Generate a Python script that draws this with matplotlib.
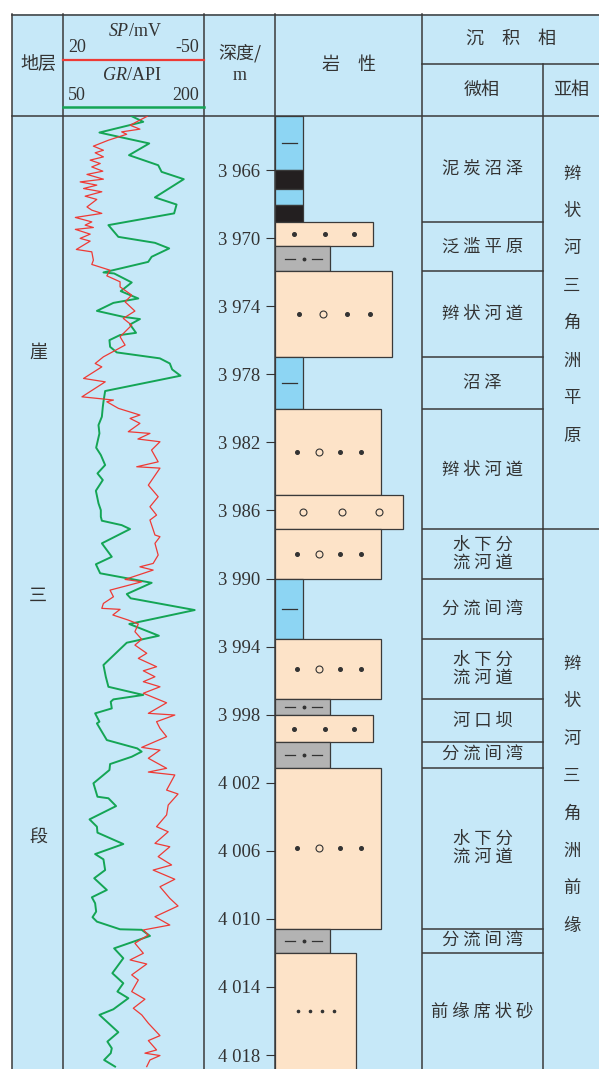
#!/usr/bin/env python3
"""崖三段单井沉积相综合柱状图"""

import matplotlib
matplotlib.use('Agg')
import matplotlib.pyplot as plt
from matplotlib.patches import Rectangle

plt.rcParams['font.family'] = ['Noto Sans CJK SC', 'DejaVu Sans']

# ---- data ----
D_TOP, D_BOT = 3962.8, 4018.82
depth_ticks = list(range(3966, 4019, 4))

gr_depth = [3962.83, 3963.16, 3963.79, 3964.43, 3965.12, 3965.71, 3966.10, 3966.53,
            3967.60, 3968.02, 3968.54, 3969.23, 3969.92, 3970.27, 3970.60, 3971.09,
            3971.39, 3971.92, 3972.01, 3972.07, 3972.60, 3973.11, 3973.34, 3973.54,
            3973.80, 3974.27, 3974.62, 3974.75, 3975.07, 3975.56, 3975.69, 3975.99,
            3976.38, 3976.71, 3977.06, 3977.36, 3977.71, 3978.08, 3978.98, 3979.61,
            3979.91, 3980.49, 3980.98, 3981.47, 3982.31, 3982.74, 3983.33, 3983.82,
            3984.21, 3984.84, 3985.58, 3985.98, 3986.37, 3986.60, 3986.86, 3987.09,
            3987.93, 3988.72, 3989.16, 3989.69, 3990.25, 3990.91, 3991.16, 3991.85,
            3992.67, 3993.36, 3993.77, 3995.08, 3995.77, 3996.36, 3996.84, 3997.10,
            3997.24, 3997.63, 3997.92, 3998.41, 3998.51, 3999.49, 3999.98, 4000.17,
            4000.47, 4000.90, 4001.25, 4002.03, 4002.82, 4002.91, 4003.37, 4004.15,
            4004.58, 4004.93, 4005.60, 4006.19, 4006.50, 4007.13, 4007.61, 4008.30,
            4008.73, 4009.08, 4009.57, 4009.90, 4010.16, 4010.61, 4010.64, 4011.00,
            4011.73, 4012.31, 4013.19, 4013.78, 4014.27, 4014.66, 4015.31, 4015.64,
            4016.66, 4017.21, 4017.60, 4017.89, 4018.29, 4018.68]
gr_value = [123.1, 135.4, 88.6, 141.8, 120.2, 151.4, 155.0, 178.7,
            147.9, 171.0, 168.4, 98.2, 108.8, 147.9, 163.1, 144.4,
            140.7, 100.0, 92.9, 104.3, 123.1, 111.4, 121.3, 130.1,
            103.5, 85.9, 114.1, 131.9, 121.3, 127.7, 110.6, 99.3,
            100.0, 107.1, 153.2, 163.8, 166.3, 175.2, 94.7, 92.9,
            92.2, 91.2, 87.6, 88.6, 85.1, 90.1, 94.7, 86.5,
            92.2, 84.8, 87.6, 90.1, 90.1, 91.2, 112.4, 121.3,
            91.2, 101.8, 84.8, 89.4, 144.4, 117.8, 122.0, 190.4,
            120.5, 152.1, 117.8, 92.9, 95.4, 98.2, 135.4, 103.5,
            100.7, 101.8, 84.0, 88.6, 85.9, 96.5, 129.0, 133.7,
            123.1, 100.0, 99.3, 82.2, 86.5, 98.2, 106.4, 78.0,
            85.9, 86.5, 114.1, 84.0, 92.9, 94.7, 83.0, 96.5,
            80.5, 84.0, 85.1, 81.2, 85.9, 110.6, 133.7, 142.6,
            104.3, 114.1, 102.4, 114.1, 107.8, 119.5, 103.5, 88.6,
            108.8, 97.1, 101.8, 100.7, 93.6, 105.3]

sp_depth = [3962.83, 3963.06, 3963.36, 3963.59, 3963.75, 3963.89, 3964.24, 3964.59,
            3964.83, 3964.98, 3965.22, 3965.41, 3965.61, 3965.81, 3966.06, 3966.25,
            3966.53, 3966.69, 3966.88, 3967.08, 3967.27, 3967.53, 3967.72, 3968.16,
            3968.35, 3968.54, 3968.78, 3969.04, 3969.23, 3969.37, 3969.48, 3969.76,
            3970.01, 3970.17, 3970.66, 3970.80, 3971.29, 3971.54, 3971.88, 3972.21,
            3972.56, 3972.86, 3973.34, 3973.74, 3974.28, 3974.71, 3975.11, 3975.79,
            3976.28, 3976.97, 3977.36, 3977.56, 3978.24, 3978.44, 3979.32, 3979.51,
            3979.61, 3980.00, 3980.39, 3980.59, 3980.88, 3981.37, 3981.47, 3981.80,
            3981.96, 3982.45, 3983.14, 3983.43, 3983.51, 3984.51, 3985.19, 3985.78,
            3986.27, 3986.56, 3987.44, 3987.54, 3987.93, 3988.62, 3989.11, 3989.31,
            3989.50, 3990.05, 3990.19, 3990.68, 3991.07, 3991.46, 3991.75, 3991.81,
            3992.14, 3992.44, 3992.67, 3993.12, 3993.57, 3993.91, 3994.39, 3994.69,
            3995.18, 3995.42, 3995.77, 3996.06, 3996.36, 3996.74, 3997.30, 3997.92,
            3998.02, 3998.41, 3998.80, 3999.29, 3999.92, 4000.08, 4000.56, 4001.15,
            4001.37, 4001.54, 4002.43, 4002.66, 4003.31, 4003.89, 4004.58, 4004.88,
            4005.56, 4005.76, 4006.34, 4006.83, 4007.13, 4007.67, 4008.11, 4008.79,
            4009.24, 4009.87, 4010.36, 4010.65, 4010.94, 4011.43, 4012.02, 4012.41,
            4012.65, 4013.29, 4013.59, 4014.27, 4014.72, 4015.25, 4015.64, 4016.13,
            4016.86, 4017.15, 4017.70, 4017.89, 4018.03, 4018.29, 4018.68]
sp_value = [-21.9, -18.2, -13.3, -18.2, -9.1, -11.6, -2.5, 5.0,
            0.0, 4.1, 0.0, 6.6, 1.6, 5.8, 0.3, 8.2,
            0.0, 11.6, 3.3, 9.9, 0.8, 9.1, 3.3, 8.2,
            5.8, 0.8, 14.0, 5.8, 9.1, 5.0, 14.0, 6.6,
            11.6, 6.6, 13.5, 5.8, 5.0, 5.8, -3.3, -1.7,
            -8.3, -8.3, -14.1, -10.8, -15.7, -9.9, -14.1, -8.3,
            -10.8, 0.0, 4.1, 0.8, 9.9, -0.9, 10.7, -5.0,
            -1.7, -7.5, -18.2, -13.3, -18.2, -12.4, -23.2, -17.2,
            -28.2, -24.0, -27.3, -16.6, -28.2, -22.4, -27.3, -23.2,
            -26.5, -23.2, -25.7, -28.2, -25.7, -27.3, -24.8, -18.2,
            -24.8, -10.8, -19.1, -3.3, -5.0, 0.0, 0.8, -8.3,
            -4.7, -12.4, -17.4, -15.7, -19.1, -15.7, -21.6, -17.4,
            -26.5, -19.9, -25.7, -19.9, -28.2, -19.9, -31.5, -22.4,
            -35.6, -26.5, -28.2, -31.5, -19.1, -28.2, -22.4, -31.5,
            -22.4, -35.6, -31.5, -37.2, -32.3, -31.5, -26.5, -32.3,
            -25.7, -33.1, -27.3, -34.0, -24.8, -35.6, -28.2, -33.1,
            -37.2, -25.7, -33.1, -19.9, -22.4, -15.7, -19.9, -13.3,
            -21.6, -14.1, -17.4, -14.1, -20.7, -14.9, -19.1, -22.4,
            -28.2, -22.4, -26.5, -20.7, -28.2, -23.2, -21.6]

litho_top = [3962.8, 3966.0, 3967.08, 3968.02, 3969.07, 3970.47, 3971.93, 3976.99,
             3980.06, 3985.10, 3987.11, 3990.05, 3993.57, 3997.10, 3998.04, 3999.59,
             4001.12, 4010.59, 4012.02]
litho_type = ['泥岩', '煤', '泥岩', '煤', '细砂岩', '粉砂岩', '中砂岩', '泥岩',
              '中砂岩', '粗砂岩', '中砂岩', '泥岩', '中砂岩', '粉砂岩', '细砂岩', '粉砂岩',
              '中砂岩', '粉砂岩', '粉细砂岩']
litho_grain = [28, 28, 28, 28, 98, 55, 117, 28, 106, 128, 106, 28, 106, 55, 98, 55, 106, 55, 81]

facies_top = [3962.8, 3969.07, 3971.93, 3976.99, 3980.06, 3987.11, 3990.05, 3993.57,
              3997.10, 3999.59, 4001.12, 4010.59, 4012.02]
facies_name = ['泥 炭 沼 泽', '泛 滥 平 原', '辫 状 河 道', '沼 泽', '辫 状 河 道',
               '水 下 分\n流 河 道', '分 流 间 湾', '水 下 分\n流 河 道', '河 口 坝',
               '分 流 间 湾', '水 下 分\n流 河 道', '分 流 间 湾', '前 缘 席 状 砂']
sub_top = [3962.8, 3987.11]
sub_name = ['辫状河三角洲平原', '辫状河三角洲前缘']
strata_name = '崖三段'

# ---- style ----
W, H = 599, 1069
BG = '#C6E8F8'
MUD = '#8DD5F3'
SAND = '#FDE3C8'
SILT = '#B3B3B3'
COAL = '#231F20'
LINE = '#3A3A3A'
INK = '#333333'
GR_C = '#14A555'
SP_C = '#EE3A35'
SERIF = ['Liberation Serif', 'DejaVu Serif']
FILL = {'泥岩': MUD, '煤': COAL, '粉砂岩': SILT, '细砂岩': SAND,
        '中砂岩': SAND, '粗砂岩': SAND, '粉细砂岩': SAND}


def frac(x0, y0, x1, y1):
    return [x0 / W, 1 - y1 / H, (x1 - x0) / W, (y1 - y0) / H]


def symbols(ax, kind, yc, w, thick):
    dot = dict(ls='none', marker='o', color=INK, ms=2.6)
    ring = dict(ls='none', marker='o', mfc='none', mec=INK, mew=0.8, ms=5)
    if kind == '泥岩':
        if thick > 1.5:
            ax.plot([6.5, 21.5], [yc, yc], color=INK, lw=0.9)
    elif kind == '粉砂岩':
        ax.plot([10, 20], [yc, yc], color=INK, lw=0.9)
        ax.plot([36.7, 46.7], [yc, yc], color=INK, lw=0.9)
        ax.plot([28.3], [yc], ls='none', marker='o', color=INK, ms=1.8)
    elif kind == '细砂岩':
        ax.plot([19, 50, 79], [yc] * 3, **dot)
    elif kind == '中砂岩':
        ax.plot([w * 0.2, w * 0.61, w * 0.81], [yc] * 3, **dot)
        ax.plot([w * 0.41], [yc], **ring)
    elif kind == '粗砂岩':
        ax.plot([28, 67, 104], [yc] * 3, **ring)
    elif kind == '粉细砂岩':
        ax.plot([23, 35, 47, 59], [yc] * 4, ls='none', marker='o', color=INK, ms=1.6)


fig = plt.figure(figsize=(W / 100, H / 100), dpi=100)
fig.patch.set_facecolor('white')

# table frame in pixel coordinates
ax0 = fig.add_axes([0, 0, 1, 1])
ax0.set_xlim(0, W)
ax0.set_ylim(H, 0)
ax0.axis('off')
ax0.add_patch(Rectangle((12, 14), W - 12, H - 14, fc=BG, ec='none'))
for y, x0, x1 in [(14.5, 12, W), (115.7, 12, W), (64.3, 422.3, W)]:
    ax0.plot([x0, x1], [y, y], color=LINE, lw=1.1)
for x, y0 in [(12, 14), (63.3, 14), (203.7, 14), (275.3, 14), (422.3, 14), (542.7, 64.3)]:
    ax0.plot([x, x], [y0, H], color=LINE, lw=1.1)
ax0.plot([63.3, 203.7], [60, 60], color=SP_C, lw=1.6)
ax0.plot([63.3, 203.7], [106.7, 106.7], color=GR_C, lw=1.8)

hd = dict(color=INK, va='center', fontsize=13)
ax0.text(38, 64, '地层', ha='center', **hd)
ax0.text(129, 31, 'SP', ha='right', family=SERIF, style='italic', **hd)
ax0.text(129, 31, '/mV', ha='left', family=SERIF, **hd)
ax0.text(68, 48, '20', ha='left', family=SERIF, **hd)
ax0.text(199, 48, '-50', ha='right', family=SERIF, **hd)
ax0.text(127, 76, 'GR', ha='right', family=SERIF, style='italic', **hd)
ax0.text(127, 76, '/API', ha='left', family=SERIF, **hd)
ax0.text(68, 95, '50', ha='left', family=SERIF, **hd)
ax0.text(199, 95, '200', ha='right', family=SERIF, **hd)
ax0.text(240, 53, '深度/', ha='center', **hd)
ax0.text(240, 76, 'm', ha='center', family=SERIF, **hd)
ax0.text(349, 65, '岩\u3000性', ha='center', **hd)
ax0.text(511, 39, '沉\u3000积\u3000相', ha='center', **hd)
ax0.text(482, 90, '微相', ha='center', **hd)
ax0.text(571, 90, '亚相', ha='center', **hd)
for ch, y in zip(strata_name, [353, 596, 838]):
    ax0.text(38, y, ch, ha='center', **hd)

# log curves
axg = fig.add_axes(frac(63.3, 115.7, 203.7, H))
axg.set_xlim(50, 200)
axg.set_ylim(D_BOT, D_TOP)
axg.axis('off')
axs = axg.twiny()
axs.set_xlim(20, -50)
axs.set_ylim(D_BOT, D_TOP)
axs.axis('off')
axs.plot(sp_value, sp_depth, color=SP_C, lw=0.9)
axg.plot(gr_value, gr_depth, color=GR_C, lw=1.4)

# lithology column
axl = fig.add_axes(frac(275.3, 115.7, 422.3, H))
axl.set_xlim(0, 147)
axl.set_ylim(D_BOT, D_TOP)
axl.patch.set_visible(False)
for s in axl.spines.values():
    s.set_visible(False)
axl.set_xticks([])
axl.set_yticks(depth_ticks)
axl.set_yticklabels([f'{d // 1000} {d % 1000:03d}' for d in depth_ticks])
axl.tick_params(axis='y', direction='out', length=6.5, width=0.8, color=INK,
                pad=4.3, labelsize=13.5, labelcolor=INK)
for lbl in axl.get_yticklabels():
    lbl.set_family(SERIF)
litho_bot = litho_top[1:] + [D_BOT + 1]
for top, bot, kind, w in zip(litho_top, litho_bot, litho_type, litho_grain):
    axl.add_patch(Rectangle((0, top), w, bot - top, fc=FILL[kind], ec=LINE, lw=0.9))
    symbols(axl, kind, (top + min(bot, D_BOT)) / 2, w, bot - top)

# facies columns
axf = fig.add_axes(frac(422.3, 115.7, W, H))
axf.set_xlim(0, W - 422.3)
axf.set_ylim(D_BOT, D_TOP)
axf.axis('off')
facies_bot = facies_top[1:] + [D_BOT]
for top, bot, name in zip(facies_top, facies_bot, facies_name):
    if top > D_TOP:
        axf.plot([0, 120.4], [top, top], color=LINE, lw=1.1)
    axf.text(60.2, (top + bot) / 2, name, ha='center', va='center', color=INK,
             fontsize=12.5, linespacing=1.05)
axf.plot([120.4, W - 422.3], [sub_top[1], sub_top[1]], color=LINE, lw=1.1)
for name, yc in zip(sub_name, [3973.9, 4002.7]):
    for i, ch in enumerate(name):
        axf.text(149.5, yc + (i - 3.5) * 2.2, ch, ha='center', va='center',
                 color=INK, fontsize=12.5)

fig.savefig('out.png', dpi=100)
